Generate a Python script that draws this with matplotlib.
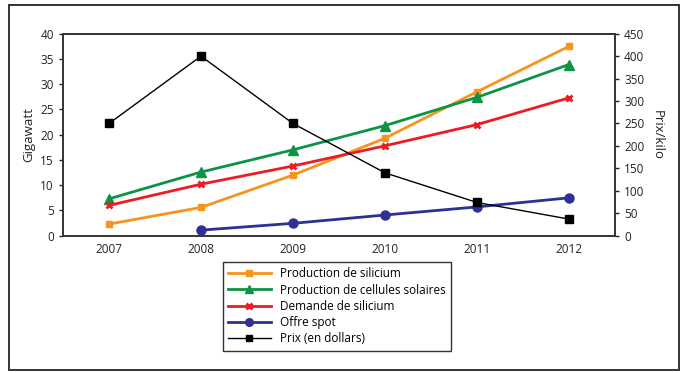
import matplotlib
matplotlib.use("Agg")
import matplotlib.pyplot as plt
from matplotlib.patches import Rectangle

plt.rcParams['font.family'] = ['Open Sans', 'DejaVu Sans']

years = [2007, 2008, 2009, 2010, 2011, 2012]
prod_silicium = [2.3, 5.6, 12.0, 19.3, 28.5, 37.5]
prod_cellules = [7.3, 12.6, 17.0, 21.8, 27.4, 33.9]
demande_silicium = [6.0, 10.2, 13.8, 17.8, 22.0, 27.3]
offre_years = [2008, 2009, 2010, 2011, 2012]
offre_spot = [1.1, 2.45, 4.1, 5.7, 7.5]
prix = [250, 400, 250, 140, 74, 37]

W, H = 682, 373
fig = plt.figure(figsize=(W / 100, H / 100), dpi=100)

# outer frame around the whole graphic
fig.patches.append(Rectangle((9 / W, 1 - 370 / H), 670 / W, 365 / H,
                             transform=fig.transFigure, fill=False,
                             edgecolor='#333333', linewidth=1.4))

ax = fig.add_axes([63 / W, 1 - 235.7 / H, 552 / W, 202 / H])
ax2 = ax.twinx()

ax.plot(years, prod_silicium, color='#F7941D', lw=2, marker='s', ms=5,
        label='Production de silicium', zorder=3)
ax.plot(years, prod_cellules, color='#0B9444', lw=2, marker='^', ms=7,
        label='Production de cellules solaires', zorder=3)
ax.plot(years, demande_silicium, color='#ED1C24', lw=2, marker='x', ms=5,
        mew=2, label='Demande de silicium', zorder=3)
ax.plot(offre_years, offre_spot, color='#2E3192', lw=2, marker='o', ms=6.5,
        label='Offre spot', zorder=3)
ax2.plot(years, prix, color='black', lw=1, marker='s', ms=5.5,
         label='Prix (en dollars)')

ax.set_xlim(2006.5, 2012.5)
ax.set_ylim(0, 40)
ax2.set_ylim(0, 450)
ax.set_yticks(range(0, 41, 5))
ax2.set_yticks(range(0, 451, 50))
ax.set_xticks(years)

for a in (ax, ax2):
    for s in a.spines.values():
        s.set_color('#333333')
        s.set_linewidth(1.2)
    a.tick_params(labelsize=8.5, colors='#222222', length=3, width=1)
ax.tick_params(axis='x', length=0, pad=5)

ax.set_ylabel('Gigawatt', fontsize=9.5, color='#222222', labelpad=4)
ax2.set_ylabel('Prix/kilo', fontsize=9.5, color='#222222', rotation=270,
               labelpad=14)

h1, l1 = ax.get_legend_handles_labels()
h2, l2 = ax2.get_legend_handles_labels()
leg = fig.legend(h1 + h2, l1 + l2, loc='upper left',
                 bbox_to_anchor=(217 / W, 1 - 256 / H),
                 fontsize=8.5, frameon=True, fancybox=False,
                 edgecolor='black', handlelength=3.6, handletextpad=0.8,
                 labelspacing=0.28, borderpad=0.45, markerscale=0.85)
leg.get_frame().set_linewidth(1.0)

fig.savefig('out.png', dpi=100)
